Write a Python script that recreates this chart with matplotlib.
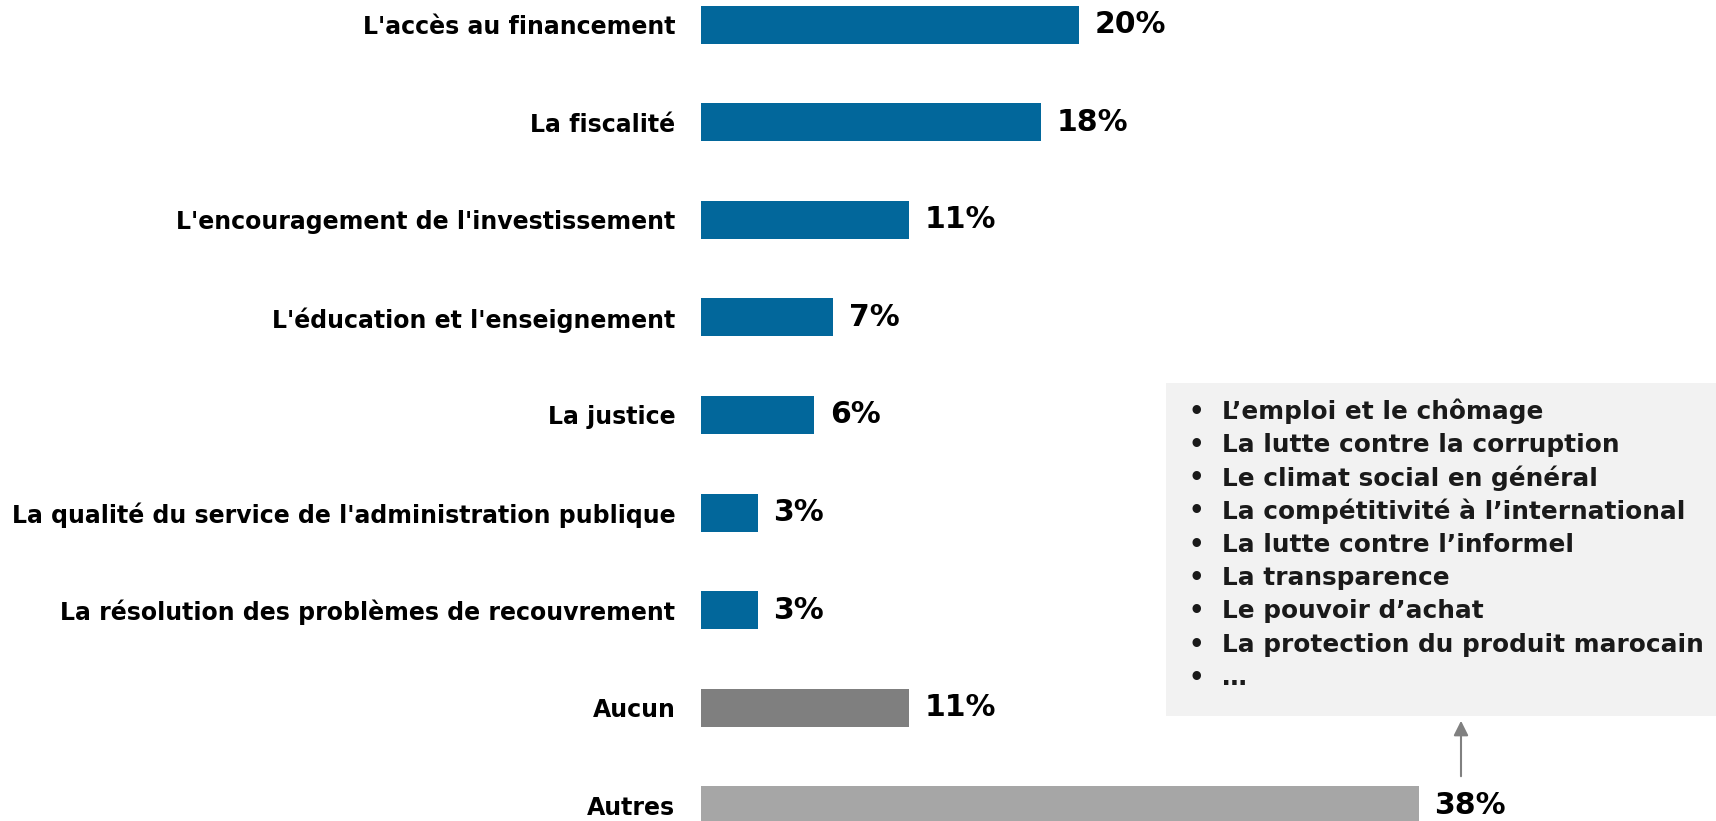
import matplotlib.pyplot as plt
from matplotlib.patches import Rectangle

categories = [
    "L'accès au financement",
    "La fiscalité",
    "L'encouragement de l'investissement",
    "L'éducation et l'enseignement",
    "La justice",
    "La qualité du service de l'administration publique",
    "La résolution des problèmes de recouvrement",
    "Aucun",
    "Autres",
]
values = [20, 18, 11, 7, 6, 3, 3, 11, 38]
colors = ['#02679B'] * 7 + ['#7F7F7F', '#A6A6A6']

autres_items = [
    "L’emploi et le chômage",
    "La lutte contre la corruption",
    "Le climat social en général",
    "La compétitivité à l’international",
    "La lutte contre l’informel",
    "La transparence",
    "Le pouvoir d’achat",
    "La protection du produit marocain",
    "…",
]

plt.rcParams['font.family'] = 'DejaVu Sans'

W, H = 1716, 821
fig = plt.figure(figsize=(W / 100, H / 100), dpi=100)
ax = fig.add_axes([701 / W, 0, 1 - 701 / W, 1])

ypos = list(range(len(categories)))
ax.barh(ypos, values, height=0.39, color=colors)
ax.set_xlim(0, (W - 701) / 18.9)
ax.set_ylim(8.16, -0.252)

ax.set_yticks(ypos)
ax.set_yticklabels(categories, fontsize=17, fontweight='bold')
ax.tick_params(axis='y', length=0, pad=18.5)
ax.set_xticks([])
for s in ax.spines.values():
    s.set_visible(False)

for y, v in zip(ypos, values):
    ax.annotate(f'{v}%', (v, y), xytext=(11, 0), textcoords='offset points',
                va='center', ha='left', fontsize=21.5, fontweight='bold')

# grey box listing the "Autres" items
x0, ytop, ybot = 1166 / W, 1 - 383 / H, 1 - 716 / H
fig.patches.append(Rectangle((x0, ybot), 1 - x0, ytop - ybot, transform=fig.transFigure,
                             facecolor='#F2F2F2', edgecolor='none', zorder=0))
for i, item in enumerate(autres_items):
    yy = 1 - (411.5 + 33.3 * i) / H
    fig.text(1188 / W, yy, '•', fontsize=17.5, fontweight='bold', va='center', color='#1a1a1a')
    fig.text(1222 / W, yy, item, fontsize=17.8, fontweight='bold', va='center', color='#1a1a1a')

ax.annotate('', xy=(1461 / W, 1 - 718 / H), xytext=(1461 / W, 1 - 779 / H),
            xycoords='figure fraction', textcoords='figure fraction',
            arrowprops=dict(arrowstyle='-|>', color='#808080', lw=1.5, mutation_scale=22))

fig.savefig('out.png', dpi=100)
